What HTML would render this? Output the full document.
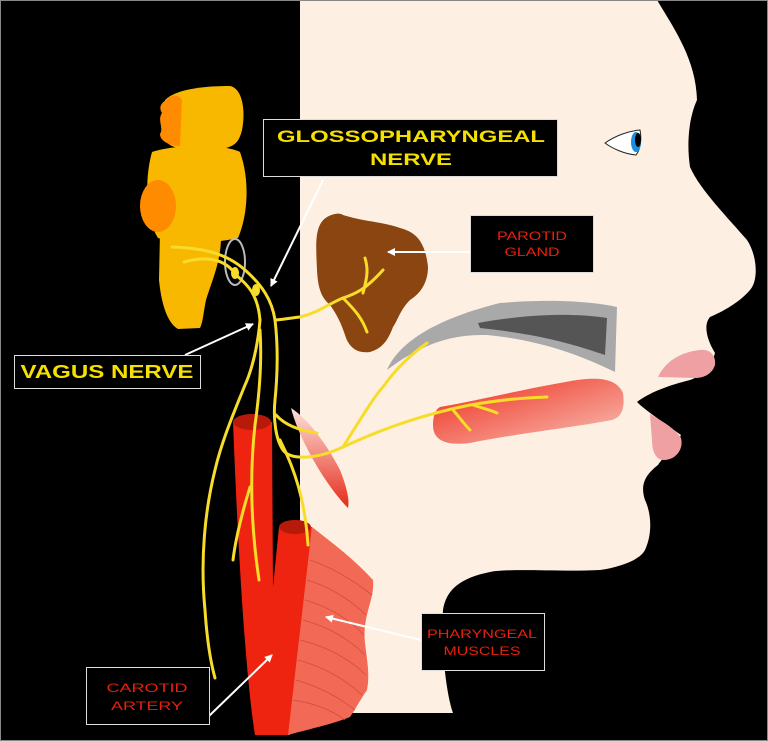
<!DOCTYPE html>
<html><head><meta charset="utf-8"><style>
html,body{margin:0;padding:0;background:#000;}
svg{display:block;}
text{font-family:"Liberation Sans",sans-serif;}
</style></head><body>
<svg width="768" height="741" viewBox="0 0 768 741" xmlns="http://www.w3.org/2000/svg">
<defs>
<linearGradient id="mus" x1="0" y1="0" x2="0" y2="1"><stop offset="0" stop-color="#fbe2dc"/><stop offset="1" stop-color="#e62a18"/></linearGradient>
<linearGradient id="tg" x1="0" y1="0" x2="1" y2="1"><stop offset="0" stop-color="#ee2a18"/><stop offset="1" stop-color="#f8c2b8"/></linearGradient>
<marker id="ah" markerWidth="8" markerHeight="8" refX="7" refY="4" orient="auto" markerUnits="userSpaceOnUse"><path d="M0,0 L8,4 L0,8 Z" fill="#fff"/></marker>
</defs>
<rect width="768" height="741" fill="#000"/>
<!-- face -->
<path d="M300,0 L657,0 C675,30 696,60 697,100 C690,115 686,140 690,167 C700,190 730,220 747,240 C757,255 759,280 750,290 C740,302 722,312 710,317 C703,325 707,340 715,353 C712,365 700,377 690,380 C670,385 650,392 637,402 C645,410 660,420 681,435 C675,448 662,458 658,465 C645,475 640,485 645,500 C652,515 652,535 645,550 C640,560 620,567 600,570 C560,572 510,568 490,572 C460,578 446,590 443,610 C441,640 445,690 453,713 L300,713 Z" fill="#fdf0e2"/>
<!-- lips -->
<path d="M658,377 C665,362 680,352 700,350 C710,349 716,355 715,365 C712,374 705,377 697,378 Z" fill="#eea0a2"/>
<path d="M650,414 C660,420 675,428 681,438 C684,450 675,460 664,460 C655,460 652,450 652,440 Z" fill="#eea0a2"/>
<!-- eye -->
<path d="M605,143 C615,136 628,131 640,130 C642,140 640,150 636,155 C625,154 613,149 605,143 Z" fill="#fff" stroke="#222" stroke-width="1"/>
<ellipse cx="636" cy="142" rx="5" ry="10" fill="#1a8ee0"/>
<ellipse cx="638" cy="140" rx="3" ry="7" fill="#000"/>
<!-- brainstem -->
<path d="M160,232 L221,232 C222,260 212,280 206,300 C203,315 203,322 200,328 L178,329 C166,322 161,300 159,280 Z" fill="#f9b800"/>
<path d="M152,152 C175,144 225,144 240,152 C250,180 248,215 238,238 C212,244 175,244 158,238 C146,220 144,180 152,152 Z" fill="#f9b800"/>
<ellipse cx="158" cy="206" rx="18" ry="26" fill="#ff8c00"/>
<path d="M165,100 C175,90 200,86 230,86 C242,88 246,110 242,130 C238,146 232,150 200,150 C182,150 170,148 165,140 Z" fill="#f9b800"/>
<path d="M166,100 C172,94 178,94 182,100 L180,146 C172,146 160,142 160,134 C164,128 157,120 162,113 C159,108 160,104 166,100 Z" fill="#ff8c00"/>
<ellipse cx="235" cy="262" rx="10" ry="23" fill="none" stroke="#bbb" stroke-width="2"/>
<!-- parotid -->
<path d="M327,217 C335,213 340,213 343,215 C365,222 385,222 400,228 C415,232 425,240 428,267 C428,285 418,295 410,300 C400,310 398,320 393,327 C388,340 383,348 370,352 C355,354 348,345 345,335 C340,320 335,312 330,305 C322,298 318,290 317,270 C316,245 314,225 327,217 Z" fill="#8b4510"/>
<!-- palate -->
<path d="M387,370 C400,340 440,318 500,303 C560,298 600,303 617,307 L615,372 C580,355 540,340 487,335 C450,334 420,345 387,370 Z" fill="#a9a9a9"/>
<path d="M478,323 C520,315 570,312 607,318 L605,355 C575,345 545,335 480,328 Z" fill="#555"/>
<!-- tongue -->
<path d="M440,407 C480,400 520,390 560,383 C590,377 615,375 623,393 C625,408 622,417 612,420 C570,428 520,433 470,443 C445,446 433,440 433,425 C433,415 436,409 440,407 Z" fill="url(#tg)"/>
<!-- small muscle -->
<path d="M291,408 C310,420 330,450 340,470 C346,485 350,500 348,508 C335,495 318,470 308,450 C300,435 294,420 291,408 Z" fill="url(#mus)"/>
<!-- carotid -->
<path d="M233,422 L272,422 L273,587 L279,527 L312,527 L290,735 L255,735 C248,690 240,600 233,422 Z" fill="#ee2410"/>
<ellipse cx="252" cy="422" rx="19" ry="8" fill="#b81a0a"/>
<ellipse cx="295" cy="527" rx="16" ry="7" fill="#b81a0a"/>
<!-- pharyngeal muscle -->
<path d="M312,527 C335,545 355,560 373,580 C375,600 362,615 365,643 C367,660 370,675 367,690 C360,700 355,710 350,717 C330,725 305,730 288,735 Z" fill="#f26a55"/>
<g stroke="#c84536" stroke-width="0.8" fill="none" opacity="0.8">
<path d="M310,560 Q340,570 372,595"/><path d="M307,580 Q340,590 366,615"/><path d="M305,600 Q340,610 364,635"/><path d="M303,620 Q340,630 365,655"/><path d="M300,640 Q340,650 366,675"/><path d="M298,660 Q335,670 362,695"/><path d="M296,680 Q330,690 355,710"/><path d="M293,700 Q325,705 345,720"/>
</g>
<!-- nerves -->
<g fill="none" stroke="#f7dc2a" stroke-width="3" stroke-linecap="round">
<path d="M172,247 C200,248 225,252 245,270 C262,285 272,300 275,320"/>
<path d="M184,262 C205,256 225,258 236,275 C248,285 258,295 260,320"/>
<path d="M275,320 C280,320 290,318 300,317 C320,312 330,303 343,298 C355,294 365,290 383,270"/>
<path d="M365,258 C368,268 368,275 363,293"/>
<path d="M343,298 C355,310 362,318 367,332"/>
<path d="M260,320 C258,345 252,370 245,385 C235,410 222,440 215,470 C205,510 200,560 205,610 C207,640 210,660 215,678"/>
<path d="M260,330 C262,360 260,390 255,425 C250,470 250,520 259,580"/>
<path d="M250,487 C243,510 236,535 233,560"/>
<path d="M275,320 C278,345 278,370 275,400 C273,420 276,440 283,450 C290,460 315,460 343,447 C380,430 420,415 470,405 C500,400 520,398 547,397"/>
<path d="M276,415 C285,425 298,430 317,433"/>
<path d="M343,447 C360,420 375,395 383,387 C395,370 410,355 427,343"/>
<path d="M453,410 C460,418 465,425 470,430"/>
<path d="M473,405 C482,408 490,410 497,413"/>
<path d="M280,440 C295,470 305,500 308,545"/>
</g>
<!-- ganglia -->
<ellipse cx="235" cy="273" rx="4" ry="6" fill="#f7dc2a"/>
<ellipse cx="256" cy="290" rx="4" ry="6" fill="#f7dc2a"/>
<!-- arrows -->
<g stroke="#fff" stroke-width="2" fill="none">
<line x1="323" y1="180" x2="271" y2="286" marker-end="url(#ah)"/>
<line x1="185" y1="355" x2="253" y2="324" marker-end="url(#ah)"/>
<line x1="470" y1="252" x2="388" y2="252" marker-end="url(#ah)"/>
<line x1="421" y1="640" x2="326" y2="617" marker-end="url(#ah)"/>
<line x1="209" y1="716" x2="272" y2="655" marker-end="url(#ah)"/>
</g>
<!-- labels -->
<rect x="263.5" y="119.5" width="294" height="57" fill="#000" stroke="#ddd" stroke-width="1"/>
<text x="411" y="142" font-size="17" font-weight="bold" fill="#f5e000" text-anchor="middle" textLength="268" lengthAdjust="spacingAndGlyphs">GLOSSOPHARYNGEAL</text>
<text x="411" y="165" font-size="17" font-weight="bold" fill="#f5e000" text-anchor="middle" textLength="82" lengthAdjust="spacingAndGlyphs">NERVE</text>
<rect x="470.5" y="215.5" width="123" height="57" fill="#000" stroke="#ddd" stroke-width="1"/>
<text x="532" y="240" font-size="12" fill="#e8200c" text-anchor="middle" textLength="70" lengthAdjust="spacingAndGlyphs">PAROTID</text>
<text x="532" y="256" font-size="12" fill="#e8200c" text-anchor="middle" textLength="55" lengthAdjust="spacingAndGlyphs">GLAND</text>
<rect x="14.5" y="355.5" width="186" height="33" fill="#000" stroke="#ddd" stroke-width="1"/>
<text x="107" y="378" font-size="18" font-weight="bold" fill="#f5e000" text-anchor="middle" textLength="173" lengthAdjust="spacingAndGlyphs">VAGUS NERVE</text>
<rect x="421.5" y="613.5" width="123" height="57" fill="#000" stroke="#ddd" stroke-width="1"/>
<text x="482" y="638" font-size="12" fill="#e8200c" text-anchor="middle" textLength="110" lengthAdjust="spacingAndGlyphs">PHARYNGEAL</text>
<text x="482" y="655" font-size="12" fill="#e8200c" text-anchor="middle" textLength="77" lengthAdjust="spacingAndGlyphs">MUSCLES</text>
<rect x="86.5" y="667.5" width="123" height="57" fill="#000" stroke="#ddd" stroke-width="1"/>
<text x="147" y="692" font-size="12" fill="#e8200c" text-anchor="middle" textLength="81" lengthAdjust="spacingAndGlyphs">CAROTID</text>
<text x="147" y="710" font-size="12" fill="#e8200c" text-anchor="middle" textLength="72" lengthAdjust="spacingAndGlyphs">ARTERY</text>
<rect x="0.5" y="0.5" width="767" height="740" fill="none" stroke="#888" stroke-width="1"/>
</svg>
</body></html>
